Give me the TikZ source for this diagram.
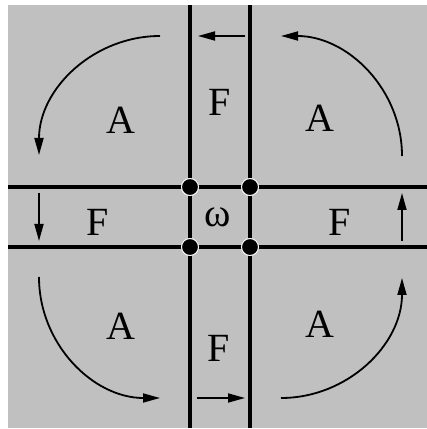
\documentclass[tikz,border=0pt]{standalone}
\usepackage{fontspec}
\setmainfont{Liberation Serif}
\usepackage{tikz}
\usetikzlibrary{arrows.meta}
\definecolor{cellgray}{RGB}{192,192,192}
\definecolor{cellink}{RGB}{0,0,0}
\tikzset{
  grid/.style={draw=cellink, line width=4pt},
  flow/.style={-{Triangle[length=17pt,width=9pt]}, draw=cellink, line width=1.8pt},
  junc/.style={circle, fill=cellink, draw=white, line width=1pt,
    minimum size=17pt, inner sep=0pt},
  lbl/.style={font=\fontsize{40}{48}\selectfont, inner sep=0pt, text=cellink}
}
\begin{document}
\begin{tikzpicture}[x=1pt, y=1pt]
  \useasboundingbox (0,0) rectangle (427,429);
  \fill[cellgray] (8,1) rectangle (427,424);
  \coordinate (vlB) at (190,1);
  \coordinate (vlT) at (190,424);
  \coordinate (vrB) at (250,1);
  \coordinate (vrT) at (250,424);
  \coordinate (htL) at (8,242);
  \coordinate (htR) at (427,242);
  \coordinate (hbL) at (8,182);
  \coordinate (hbR) at (427,182);
  \draw[grid] (vlB) -- (vlT);
  \draw[grid] (vrB) -- (vrT);
  \draw[grid] (htL) -- (htR);
  \draw[grid] (hbL) -- (hbR);
  \node[junc] (jtl) at (190,242) {};
  \node[junc] (jtr) at (250,242) {};
  \node[junc] (jbl) at (190,182) {};
  \node[junc] (jbr) at (250,182) {};
  \node[lbl] (atl) at (121,309) {A};
  \node[lbl] (atr) at (320,311) {A};
  \node[lbl] (abl) at (121,103) {A};
  \node[lbl] (abr) at (320,105) {A};
  \node[lbl] (ftop) at (220,327) {F};
  \node[lbl] (fleft) at (98,207) {F};
  \node[lbl] (fright) at (340,207) {F};
  \node[lbl] (fbot) at (219,81) {F};
  \node[lbl] (om) at (218,212) {ω};
  \coordinate (tlS) at (160,393);
  \coordinate (tlE) at (39,274);
  \coordinate (trS) at (402,273);
  \coordinate (trE) at (281,393);
  \coordinate (brS) at (281,31);
  \coordinate (brE) at (402,151);
  \coordinate (blS) at (39,152);
  \coordinate (blE) at (160,31);
  \coordinate (topS) at (245,393);
  \coordinate (topE) at (198,393);
  \coordinate (rgtS) at (402,188);
  \coordinate (rgtE) at (402,236);
  \coordinate (lftS) at (39,236);
  \coordinate (lftE) at (39,188);
  \coordinate (botS) at (197,31);
  \coordinate (botE) at (245,31);
  \draw[flow] (tlS) to[out=180, in=90] (tlE);
  \draw[flow] (trS) to[out=90, in=0] (trE);
  \draw[flow] (brS) to[out=0, in=-90] (brE);
  \draw[flow] (blS) to[out=-90, in=180] (blE);
  \draw[flow] (topS) -- (topE);
  \draw[flow] (rgtS) -- (rgtE);
  \draw[flow] (lftS) -- (lftE);
  \draw[flow] (botS) -- (botE);
\end{tikzpicture}
\end{document}
